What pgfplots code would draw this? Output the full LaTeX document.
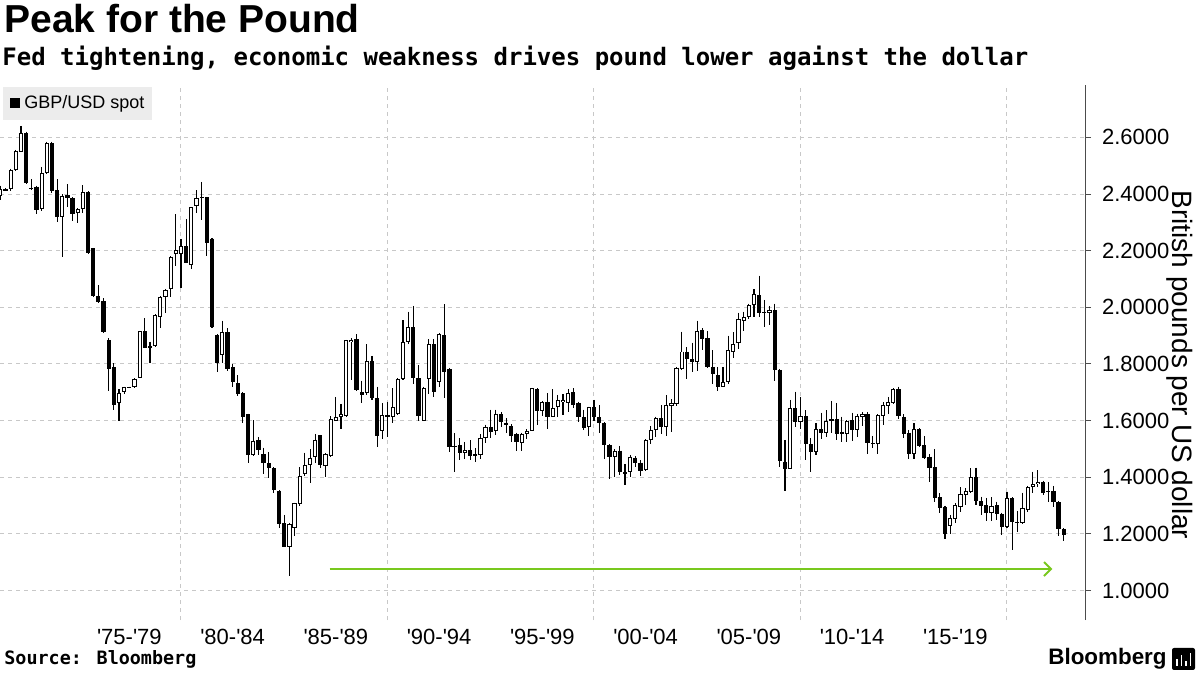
\documentclass[border=0pt]{standalone}
\usepackage{pgfplots}
\pgfplotsset{compat=1.18}
\usepackage{pgfplotstable}
\usetikzlibrary{arrows.meta}
\usepackage{fontspec}
\setmainfont{Liberation Sans}
\newfontfamily\monof{DejaVu Sans Mono}
\definecolor{gridc}{RGB}{200,200,200}
\definecolor{arrowg}{RGB}{120,200,30}
\definecolor{legbg}{RGB}{236,236,236}
\newcommand{\q}{\textquotesingle}

\pgfplotstableread{
t o h l c
1971.25 2.393 2.43 2.38 2.417
1971.50 2.417 2.42 2.41 2.412
1971.75 2.417 2.49 2.41 2.485
1972.00 2.485 2.556 2.48 2.552
1972.25 2.55 2.641 2.548 2.614
1972.50 2.614 2.62 2.435 2.438
1972.75 2.422 2.452 2.415 2.418
1973.00 2.426 2.43 2.328 2.343
1973.25 2.346 2.496 2.34 2.473
1973.50 2.476 2.585 2.47 2.579
1973.75 2.579 2.585 2.405 2.410
1974.00 2.414 2.452 2.302 2.320
1974.25 2.320 2.40 2.176 2.393
1974.50 2.396 2.434 2.353 2.387
1974.75 2.385 2.39 2.306 2.329
1975.00 2.334 2.35 2.299 2.346
1975.25 2.346 2.431 2.334 2.407
1975.50 2.407 2.41 2.19 2.191
1975.75 2.209 2.21 2.035 2.040
1976.00 2.040 2.078 2.014 2.019
1976.25 2.022 2.032 1.91 1.912
1976.50 1.884 1.89 1.706 1.782
1976.75 1.788 1.802 1.638 1.655
1977.00 1.661 1.71 1.597 1.699
1977.25 1.702 1.72 1.695 1.717
1977.50 1.716 1.72 1.714 1.719
1977.75 1.717 1.75 1.715 1.746
1978.00 1.752 1.917 1.75 1.915
1978.25 1.915 1.961 1.855 1.858
1978.50 1.863 1.879 1.803 1.857
1978.75 1.865 1.975 1.86 1.972
1979.00 1.967 2.04 1.926 2.037
1979.25 2.037 2.065 1.981 2.061
1979.50 2.064 2.18 2.037 2.179
1979.75 2.187 2.328 2.147 2.202
1980.00 2.190 2.240 2.067 2.216
1980.25 2.216 2.311 2.155 2.157
1980.50 2.149 2.355 2.136 2.353
1980.75 2.359 2.414 2.334 2.385
1981.00 2.386 2.443 2.308 2.390
1981.25 2.388 2.39 2.181 2.228
1981.50 2.243 2.245 1.927 1.929
1981.75 1.902 1.905 1.770 1.802
1982.00 1.830 1.953 1.802 1.912
1982.25 1.912 1.926 1.775 1.781
1982.50 1.788 1.80 1.718 1.735
1982.75 1.732 1.761 1.687 1.694
1983.00 1.696 1.70 1.590 1.614
1983.25 1.623 1.625 1.451 1.479
1983.50 1.478 1.602 1.475 1.529
1983.75 1.532 1.543 1.479 1.496
1984.00 1.482 1.505 1.413 1.449
1984.25 1.451 1.49 1.396 1.434
1984.50 1.431 1.435 1.346 1.355
1984.75 1.353 1.355 1.220 1.234
1985.00 1.238 1.267 1.152 1.155
1985.25 1.155 1.24 1.051 1.234
1985.50 1.220 1.31 1.191 1.309
1985.75 1.305 1.435 1.30 1.406
1986.00 1.410 1.487 1.405 1.443
1986.25 1.442 1.499 1.379 1.469
1986.50 1.470 1.553 1.451 1.532
1986.75 1.548 1.55 1.431 1.443
1987.00 1.441 1.485 1.400 1.481
1987.25 1.476 1.616 1.472 1.604
1987.50 1.599 1.684 1.597 1.611
1987.75 1.613 1.659 1.570 1.623
1988.00 1.616 1.885 1.614 1.883
1988.25 1.878 1.89 1.743 1.886
1988.50 1.888 1.905 1.705 1.707
1988.75 1.700 1.741 1.661 1.690
1989.00 1.697 1.870 1.69 1.811
1989.25 1.811 1.829 1.673 1.679
1989.50 1.679 1.72 1.508 1.547
1989.75 1.563 1.661 1.535 1.619
1990.00 1.619 1.664 1.543 1.611
1990.25 1.612 1.714 1.590 1.647
1990.50 1.623 1.75 1.62 1.746
1990.75 1.746 1.955 1.743 1.877
1991.00 1.877 1.985 1.870 1.930
1991.25 1.930 2.005 1.729 1.750
1991.50 1.750 1.796 1.600 1.618
1991.75 1.599 1.72 1.597 1.716
1992.00 1.746 1.887 1.693 1.870
1992.25 1.870 1.887 1.682 1.700
1992.50 1.735 1.91 1.720 1.906
1992.75 1.902 2.011 1.679 1.773
1993.00 1.782 1.785 1.488 1.508
1993.25 1.512 1.555 1.417 1.508
1993.50 1.514 1.537 1.460 1.487
1993.75 1.487 1.525 1.463 1.496
1994.00 1.496 1.531 1.460 1.475
1994.25 1.482 1.502 1.455 1.475
1994.50 1.480 1.551 1.463 1.540
1994.75 1.540 1.586 1.521 1.578
1995.00 1.578 1.639 1.537 1.560
1995.25 1.563 1.639 1.548 1.625
1995.50 1.623 1.631 1.578 1.594
1995.75 1.593 1.608 1.555 1.585
1996.00 1.581 1.588 1.525 1.546
1996.25 1.553 1.558 1.494 1.525
1996.50 1.522 1.558 1.494 1.553
1996.75 1.553 1.569 1.535 1.565
1997.00 1.565 1.716 1.563 1.714
1997.25 1.711 1.714 1.585 1.635
1997.50 1.635 1.670 1.616 1.664
1997.75 1.664 1.696 1.572 1.614
1998.00 1.614 1.711 1.612 1.643
1998.25 1.649 1.691 1.612 1.673
1998.50 1.664 1.693 1.620 1.673
1998.75 1.663 1.711 1.631 1.696
1999.00 1.700 1.714 1.645 1.655
1999.25 1.663 1.667 1.596 1.612
1999.50 1.612 1.639 1.567 1.575
1999.75 1.576 1.649 1.546 1.647
2000.00 1.647 1.673 1.600 1.614
2000.25 1.612 1.655 1.558 1.591
2000.50 1.591 1.595 1.465 1.514
2000.75 1.514 1.516 1.395 1.473
2001.00 1.473 1.499 1.400 1.493
2001.25 1.494 1.511 1.409 1.417
2001.50 1.417 1.447 1.374 1.414
2001.75 1.417 1.479 1.400 1.473
2002.00 1.469 1.475 1.437 1.451
2002.25 1.452 1.460 1.404 1.421
2002.50 1.426 1.535 1.423 1.532
2002.75 1.532 1.581 1.518 1.567
2003.00 1.567 1.614 1.543 1.608
2003.25 1.608 1.655 1.553 1.578
2003.50 1.578 1.690 1.546 1.655
2003.75 1.652 1.675 1.561 1.661
2004.00 1.657 1.79 1.652 1.787
2004.25 1.783 1.914 1.779 1.844
2004.50 1.844 1.859 1.747 1.818
2004.75 1.818 1.875 1.772 1.806
2005.00 1.808 1.953 1.776 1.916
2005.25 1.920 1.926 1.849 1.888
2005.50 1.891 1.917 1.785 1.788
2005.75 1.790 1.849 1.728 1.763
2006.00 1.760 1.788 1.704 1.720
2006.25 1.720 1.790 1.718 1.735
2006.50 1.735 1.900 1.730 1.849
2006.75 1.843 1.912 1.820 1.870
2007.00 1.873 1.981 1.852 1.958
2007.25 1.953 1.985 1.917 1.965
2007.50 1.967 2.013 1.959 2.007
2007.75 2.007 2.063 1.967 2.047
2008.00 2.043 2.112 1.967 1.981
2008.25 1.985 2.026 1.931 1.981
2008.50 1.981 2.005 1.937 1.990
2008.75 1.990 2.013 1.741 1.779
2009.00 1.779 1.782 1.436 1.456
2009.25 1.454 1.532 1.350 1.430
2009.50 1.430 1.673 1.428 1.643
2009.75 1.643 1.702 1.578 1.596
2010.00 1.596 1.684 1.572 1.616
2010.25 1.616 1.637 1.461 1.517
2010.50 1.517 1.537 1.418 1.490
2010.75 1.490 1.591 1.479 1.569
2011.00 1.570 1.628 1.534 1.557
2011.25 1.555 1.637 1.541 1.600
2011.50 1.605 1.670 1.558 1.598
2011.75 1.605 1.663 1.532 1.553
2012.00 1.561 1.614 1.525 1.553
2012.25 1.553 1.602 1.525 1.599
2012.50 1.602 1.628 1.529 1.567
2012.75 1.567 1.625 1.541 1.616
2013.00 1.613 1.630 1.581 1.623
2013.25 1.623 1.631 1.482 1.520
2013.50 1.520 1.546 1.503 1.517
2013.75 1.517 1.622 1.482 1.619
2014.00 1.618 1.664 1.585 1.655
2014.25 1.652 1.684 1.623 1.664
2014.50 1.661 1.714 1.657 1.711
2014.75 1.711 1.720 1.605 1.618
2015.00 1.612 1.622 1.537 1.553
2015.25 1.558 1.567 1.464 1.481
2015.50 1.481 1.591 1.464 1.569
2015.75 1.569 1.573 1.508 1.511
2016.00 1.514 1.546 1.464 1.469
2016.25 1.473 1.481 1.383 1.434
2016.50 1.435 1.499 1.314 1.328
2016.75 1.330 1.344 1.275 1.293
2017.00 1.294 1.30 1.182 1.200
2017.25 1.229 1.267 1.200 1.255
2017.50 1.253 1.308 1.238 1.302
2017.75 1.296 1.364 1.277 1.340
2018.00 1.337 1.361 1.302 1.352
2018.25 1.349 1.432 1.344 1.400
2018.50 1.400 1.434 1.302 1.317
2018.75 1.317 1.332 1.267 1.300
2019.00 1.302 1.327 1.246 1.273
2019.25 1.273 1.330 1.246 1.300
2019.50 1.302 1.314 1.250 1.269
2019.75 1.269 1.275 1.196 1.225
2020.00 1.225 1.349 1.220 1.326
2020.25 1.326 1.33 1.144 1.241
2020.50 1.241 1.281 1.208 1.238
2020.75 1.238 1.346 1.234 1.291
2021.00 1.285 1.370 1.279 1.365
2021.25 1.365 1.420 1.346 1.376
2021.50 1.376 1.424 1.367 1.384
2021.75 1.384 1.388 1.338 1.346
2022.00 1.352 1.382 1.314 1.347
2022.25 1.352 1.370 1.296 1.312
2022.50 1.312 1.315 1.191 1.217
2022.75 1.218 1.22 1.176 1.197
}\gbp

\begin{document}
\begin{tikzpicture}
\useasboundingbox (0,0) rectangle (600bp,337.5bp);
\begin{axis}[
  at={(0bp,27.5bp)}, anchor=south west,
  scale only axis, width=542.5bp, height=267.5bp,
  xmin=1971.235, xmax=2023.78, ymin=0.896, ymax=2.785,
  axis y line*=right, axis x line*=bottom,
  x axis line style={draw=none},
  y axis line style={black!70, line width=0.5bp},
  xtick={1977.5,1982.5,1987.5,1992.5,1997.5,2002.5,2007.5,2012.5,2017.5},
  xticklabels={\q75-\q79,\q80-\q84,\q85-\q89,\q90-\q94,\q95-\q99,\q00-\q04,\q05-\q09,\q10-\q14,\q15-\q19},
  x tick style={draw=none},
  extra x ticks={1980,1990,2000,2010,2020},
  extra x tick labels={},
  extra x tick style={grid=major, major tick length=0pt},
  ytick={1.0,1.2,1.4,1.6,1.8,2.0,2.2,2.4,2.6},
  ymajorgrids,
  grid style={gridc, line width=0.5bp, dash pattern=on 2bp off 2bp},
  y tick style={black!70, line width=0.5bp},
  tick align=outside, major tick length=3bp,
  y tick label style={/pgf/number format/fixed, /pgf/number format/fixed zerofill, /pgf/number format/precision=4, /pgf/number format/assume math mode=true, xshift=2bp},
  ticklabel style={font=\fontsize{11bp}{13bp}\selectfont, text=black},
  x tick label style={yshift=2bp},
  clip=true,
]
% wicks
\addplot[color=black, draw=none, mark=none, error bars/.cd, y dir=minus, y explicit, error mark=none,
  error bar style={draw=black, line width=0.55bp}]
  table[x=t, y=h, y error minus expr={\thisrow{h}-\thisrow{l}}] {\gbp};
% bodies (black)
\addplot[color=black, draw=none, mark=none, error bars/.cd, y dir=minus, y explicit, error mark=none,
  error bar style={draw=black, line width=2.1bp}]
  table[x=t, y expr={max(\thisrow{o},\thisrow{c})}, y error minus expr={max(abs(\thisrow{c}-\thisrow{o}),0.004)}] {\gbp};
% hollow interior for rising quarters
\addplot[color=white, draw=none, mark=none, error bars/.cd, y dir=minus, y explicit, error mark=none,
  error bar style={draw=white, line width=1.1bp}]
  table[x=t, y expr={\thisrow{c}-0.0035}, y error minus expr={max(\thisrow{c}-\thisrow{o}-0.007,0)}] {\gbp};
% green arrow
\addplot[arrowg, line width=1bp, -{Straight Barb[length=3.5bp,width=7bp]}] coordinates {(1987.2,1.076) (2022.2,1.076)};
\end{axis}
% title and subtitle
\node[anchor=base west, inner sep=0pt, font=\fontsize{19.5bp}{22bp}\selectfont\bfseries] at (2bp,321bp) {Peak for the Pound};
\node[anchor=base west, inner sep=0pt, font=\fontsize{12bp}{14bp}\selectfont\monof\bfseries] at (1bp,304.5bp) {Fed tightening, economic weakness drives pound lower against the dollar};
% legend
\fill[legbg] (1.5bp,277.5bp) rectangle (76bp,294bp);
\fill[black] (5bp,283.25bp) rectangle (10bp,288.25bp);
\node[anchor=west, inner sep=0pt, font=\fontsize{9bp}{10bp}\selectfont] at (12bp,285.75bp) {GBP/USD spot};
% y label
\node[rotate=-90, inner sep=0pt, font=\fontsize{14bp}{16bp}\selectfont] at (590bp,155bp) {British pounds per US dollar};
% footer
\node[anchor=base west, inner sep=0pt, font=\fontsize{9.2bp}{11bp}\selectfont\monof\bfseries] at (2bp,5.5bp) {Source: Bloomberg};
\node[anchor=base west, inner sep=0pt, font=\fontsize{11.2bp}{13bp}\selectfont\bfseries] at (524bp,5.5bp) {Bloomberg};
\fill[black, rounded corners=1bp] (586bp,2.5bp) rectangle (597.5bp,13.5bp);
\draw[white, line width=0.8bp] (588.5bp,4.5bp) -- (588.5bp,8bp) (590.8bp,4.5bp) -- (590.8bp,10bp) (593.1bp,4.5bp) -- (593.1bp,7bp) (595.3bp,4.5bp) -- (595.3bp,11bp);
\end{tikzpicture}
\end{document}
